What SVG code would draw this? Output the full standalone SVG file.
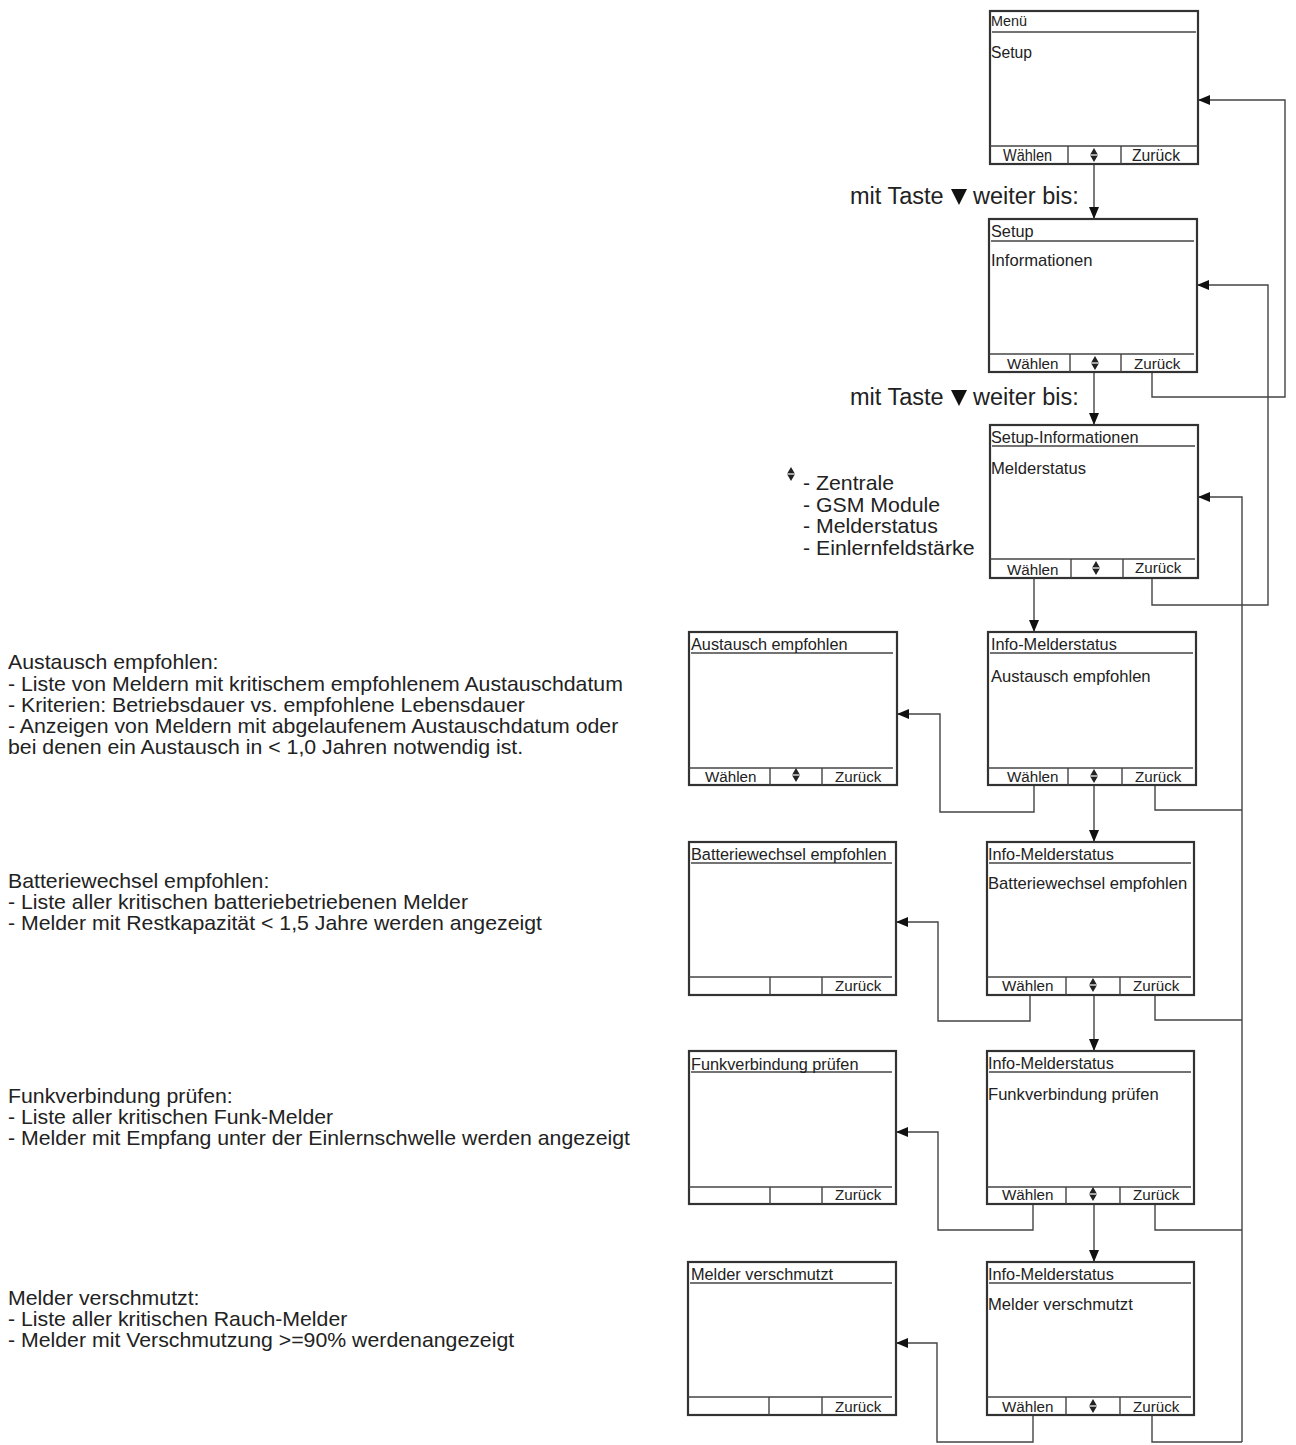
<svg xmlns="http://www.w3.org/2000/svg" width="1296" height="1445" viewBox="0 0 1296 1445">
<style>
.bg{fill:#fff}
.frame{fill:#fff;stroke:#333;stroke-width:2.2}
.tl{stroke:#444;stroke-width:1.4}
.con{stroke:#444;stroke-width:1.4;fill:none}
.t{font-family:"Liberation Sans",Arial,sans-serif;fill:#222}
.st{font-size:16.3px}
.sb{font-size:16.6px}
.sf{font-size:15.2px}
.big{font-size:23.5px}
.desc{font-size:19.8px}
.icon{fill:#222}
</style>
<defs>
<marker id="ah" markerWidth="12" markerHeight="10" refX="11" refY="5" orient="auto" markerUnits="userSpaceOnUse">
<path d="M0,0 L12,5 L0,10 Z" fill="#111"/>
</marker>
<g id="ud"><path d="M-3.5,-1 L0,-7 L3.5,-1 Z M-3.5,1 L0,7 L3.5,1 Z" class="icon"/><line x1="-4" y1="0" x2="4" y2="0" stroke="#222" stroke-width="0.8"/></g>
</defs>
<rect class="bg" width="1296" height="1445"/>

<g id="connectors">
<line class="con" x1="1094" y1="164" x2="1094" y2="218" marker-end="url(#ah)"/>
<line class="con" x1="1094" y1="372" x2="1094" y2="424" marker-end="url(#ah)"/>
<line class="con" x1="1034" y1="578" x2="1034" y2="631" marker-end="url(#ah)"/>
<line class="con" x1="1094" y1="785" x2="1094" y2="841" marker-end="url(#ah)"/>
<line class="con" x1="1094" y1="995" x2="1094" y2="1050" marker-end="url(#ah)"/>
<line class="con" x1="1094" y1="1204" x2="1094" y2="1261" marker-end="url(#ah)"/>
<polyline class="con" points="1034,785 1034,812 940,812 940,714 898,714" marker-end="url(#ah)"/>
<polyline class="con" points="1030,995 1030,1021 938,1021 938,922 897,922" marker-end="url(#ah)"/>
<polyline class="con" points="1033,1204 1033,1230 938,1230 938,1132 897,1132" marker-end="url(#ah)"/>
<polyline class="con" points="1033,1415 1033,1442 937,1442 937,1343 897,1343" marker-end="url(#ah)"/>
<polyline class="con" points="1152,372 1152,397 1285,397 1285,100 1199,100" marker-end="url(#ah)"/>
<polyline class="con" points="1152,578 1152,605 1268,605 1268,285 1198,285" marker-end="url(#ah)"/>
<polyline class="con" points="1242,1442 1242,497 1199,497" marker-end="url(#ah)"/>
<polyline class="con" points="1155,785 1155,810 1242,810"/>
<polyline class="con" points="1155,995 1155,1020 1242,1020"/>
<polyline class="con" points="1155,1204 1155,1230 1242,1230"/>
<polyline class="con" points="1152,1415 1152,1442 1242,1442"/>
</g>

<g id="labels">
<text class="t big" x="850" y="204">mit Taste</text>
<path d="M951,189 L967,189 L959,205 Z" fill="#111"/>
<text class="t big" x="973" y="204">weiter bis:</text>
<text class="t big" x="850" y="405">mit Taste</text>
<path d="M951,390 L967,390 L959,406 Z" fill="#111"/>
<text class="t big" x="973" y="405">weiter bis:</text>
<use href="#ud" x="791" y="474"/>
<g transform="translate(803,0) scale(1.075,1)">
<text class="t desc" x="0" y="490">- Zentrale</text>
<text class="t desc" x="0" y="512">- GSM Module</text>
<text class="t desc" x="0" y="533">- Melderstatus</text>
<text class="t desc" x="0" y="555">- Einlernfeldstärke</text>
</g>
</g>

<g id="desc-austausch" transform="translate(8,0) scale(1.075,1)">
<text class="t desc" x="0" y="669">Austausch empfohlen:</text>
<text class="t desc" x="0" y="691">- Liste von Meldern mit kritischem empfohlenem Austauschdatum</text>
<text class="t desc" x="0" y="712">- Kriterien: Betriebsdauer vs. empfohlene Lebensdauer</text>
<text class="t desc" x="0" y="733">- Anzeigen von Meldern mit abgelaufenem Austauschdatum oder</text>
<text class="t desc" x="0" y="754">bei denen ein Austausch in &lt; 1,0 Jahren notwendig ist.</text>
</g>
<g id="desc-batterie" transform="translate(8,0) scale(1.075,1)">
<text class="t desc" x="0" y="888">Batteriewechsel empfohlen:</text>
<text class="t desc" x="0" y="909">- Liste aller kritischen batteriebetriebenen Melder</text>
<text class="t desc" x="0" y="930">- Melder mit Restkapazität &lt; 1,5 Jahre werden angezeigt</text>
</g>
<g id="desc-funk" transform="translate(8,0) scale(1.075,1)">
<text class="t desc" x="0" y="1103">Funkverbindung prüfen:</text>
<text class="t desc" x="0" y="1124">- Liste aller kritischen Funk-Melder</text>
<text class="t desc" x="0" y="1145">- Melder mit Empfang unter der Einlernschwelle werden angezeigt</text>
</g>
<g id="desc-verschmutzt" transform="translate(8,0) scale(1.075,1)">
<text class="t desc" x="0" y="1305">Melder verschmutzt:</text>
<text class="t desc" x="0" y="1326">- Liste aller kritischen Rauch-Melder</text>
<text class="t desc" x="0" y="1347">- Melder mit Verschmutzung &gt;=90% werdenangezeigt</text>
</g>

<g id="s-menu">
<rect class="frame" x="990" y="11" width="208" height="153"/>
<line class="tl" x1="992" y1="32" x2="1196" y2="32" stroke-width="2.5"/>
<line class="tl" x1="990" y1="146" x2="1198" y2="146"/>
<line class="tl" x1="1068" y1="146" x2="1068" y2="164"/>
<line class="tl" x1="1121" y1="146" x2="1121" y2="164"/>
<text class="t" font-size="15" x="991" y="26" textLength="36" lengthAdjust="spacingAndGlyphs">Menü</text>
<text class="t" font-size="16" x="991" y="58" textLength="41" lengthAdjust="spacingAndGlyphs">Setup</text>
<text class="t" font-size="16" x="1003" y="161" textLength="49" lengthAdjust="spacingAndGlyphs">Wählen</text>
<use href="#ud" x="1094" y="155"/>
<text class="t" font-size="16" x="1132" y="161" textLength="48" lengthAdjust="spacingAndGlyphs">Zurück</text>
</g>

<g id="s-setup">
<rect class="frame" x="989" y="219" width="208" height="153"/>
<line class="tl" x1="991" y1="241" x2="1194" y2="241"/>
<line class="tl" x1="989" y1="354" x2="1194" y2="354"/>
<line class="tl" x1="1070" y1="354" x2="1070" y2="372"/>
<line class="tl" x1="1121" y1="354" x2="1121" y2="372"/>
<text class="t st" x="991" y="237">Setup</text>
<text class="t sb" x="991" y="266">Informationen</text>
<text class="t sf" x="1007" y="369">Wählen</text>
<use href="#ud" x="1095" y="363"/>
<text class="t sf" x="1134" y="369">Zurück</text>
</g>

<g id="s-setupinfo">
<rect class="frame" x="990" y="425" width="208" height="153"/>
<line class="tl" x1="992" y1="446" x2="1195" y2="446"/>
<line class="tl" x1="990" y1="559" x2="1195" y2="559"/>
<line class="tl" x1="1071" y1="559" x2="1071" y2="578"/>
<line class="tl" x1="1123" y1="559" x2="1123" y2="578"/>
<text class="t st" x="991" y="443">Setup-Informationen</text>
<text class="t sb" x="991" y="474">Melderstatus</text>
<text class="t sf" x="1007" y="575">Wählen</text>
<use href="#ud" x="1096" y="568"/>
<text class="t sf" x="1135" y="573">Zurück</text>
</g>

<g id="s-info-austausch">
<rect class="frame" x="988" y="632" width="208" height="153"/>
<line class="tl" x1="990" y1="653" x2="1193" y2="653"/>
<line class="tl" x1="988" y1="768" x2="1193" y2="768"/>
<line class="tl" x1="1068" y1="768" x2="1068" y2="785"/>
<line class="tl" x1="1122" y1="768" x2="1122" y2="785"/>
<text class="t st" x="991" y="650">Info-Melderstatus</text>
<text class="t sb" x="991" y="682">Austausch empfohlen</text>
<text class="t sf" x="1007" y="782">Wählen</text>
<use href="#ud" x="1094" y="776"/>
<text class="t sf" x="1135" y="782">Zurück</text>
</g>
<g id="s-austausch">
<rect class="frame" x="689" y="632" width="208" height="153"/>
<line class="tl" x1="691" y1="653" x2="893" y2="653"/>
<line class="tl" x1="689" y1="768" x2="893" y2="768"/>
<line class="tl" x1="770" y1="768" x2="770" y2="785"/>
<line class="tl" x1="822" y1="768" x2="822" y2="785"/>
<text class="t st" x="691" y="650">Austausch empfohlen</text>
<text class="t sf" x="705" y="782">Wählen</text>
<use href="#ud" x="796" y="775"/>
<text class="t sf" x="835" y="782">Zurück</text>
</g>

<g id="s-info-batterie">
<rect class="frame" x="987" y="842" width="207" height="153"/>
<line class="tl" x1="989" y1="863" x2="1191" y2="863"/>
<line class="tl" x1="987" y1="977" x2="1191" y2="977"/>
<line class="tl" x1="1066" y1="977" x2="1066" y2="995"/>
<line class="tl" x1="1120" y1="977" x2="1120" y2="995"/>
<text class="t st" x="988" y="860">Info-Melderstatus</text>
<text class="t sb" x="988" y="889">Batteriewechsel empfohlen</text>
<text class="t sf" x="1002" y="991">Wählen</text>
<use href="#ud" x="1093" y="985"/>
<text class="t sf" x="1133" y="991">Zurück</text>
</g>
<g id="s-batterie">
<rect class="frame" x="689" y="842" width="207" height="153"/>
<line class="tl" x1="691" y1="863" x2="892" y2="863"/>
<line class="tl" x1="689" y1="977" x2="892" y2="977"/>
<line class="tl" x1="770" y1="977" x2="770" y2="995"/>
<line class="tl" x1="822" y1="977" x2="822" y2="995"/>
<text class="t st" x="691" y="860">Batteriewechsel empfohlen</text>
<text class="t sf" x="835" y="991">Zurück</text>
</g>

<g id="s-info-funk">
<rect class="frame" x="987" y="1051" width="207" height="153"/>
<line class="tl" x1="989" y1="1072" x2="1191" y2="1072"/>
<line class="tl" x1="987" y1="1187" x2="1191" y2="1187"/>
<line class="tl" x1="1066" y1="1187" x2="1066" y2="1204"/>
<line class="tl" x1="1120" y1="1187" x2="1120" y2="1204"/>
<text class="t st" x="988" y="1069">Info-Melderstatus</text>
<text class="t sb" x="988" y="1100">Funkverbindung prüfen</text>
<text class="t sf" x="1002" y="1200">Wählen</text>
<use href="#ud" x="1093" y="1194"/>
<text class="t sf" x="1133" y="1200">Zurück</text>
</g>
<g id="s-funk">
<rect class="frame" x="689" y="1051" width="207" height="153"/>
<line class="tl" x1="691" y1="1072" x2="892" y2="1072"/>
<line class="tl" x1="689" y1="1187" x2="892" y2="1187"/>
<line class="tl" x1="770" y1="1187" x2="770" y2="1204"/>
<line class="tl" x1="822" y1="1187" x2="822" y2="1204"/>
<text class="t st" x="691" y="1070">Funkverbindung prüfen</text>
<text class="t sf" x="835" y="1200">Zurück</text>
</g>

<g id="s-info-verschmutzt">
<rect class="frame" x="987" y="1262" width="207" height="153"/>
<line class="tl" x1="989" y1="1283" x2="1191" y2="1283"/>
<line class="tl" x1="987" y1="1397" x2="1191" y2="1397"/>
<line class="tl" x1="1066" y1="1397" x2="1066" y2="1415"/>
<line class="tl" x1="1120" y1="1397" x2="1120" y2="1415"/>
<text class="t st" x="988" y="1280">Info-Melderstatus</text>
<text class="t sb" x="988" y="1310">Melder verschmutzt</text>
<text class="t sf" x="1002" y="1412">Wählen</text>
<use href="#ud" x="1093" y="1406"/>
<text class="t sf" x="1133" y="1412">Zurück</text>
</g>
<g id="s-verschmutzt">
<rect class="frame" x="688" y="1262" width="208" height="153"/>
<line class="tl" x1="690" y1="1283" x2="892" y2="1283"/>
<line class="tl" x1="688" y1="1397" x2="892" y2="1397"/>
<line class="tl" x1="769" y1="1397" x2="769" y2="1415"/>
<line class="tl" x1="822" y1="1397" x2="822" y2="1415"/>
<text class="t st" x="691" y="1280">Melder verschmutzt</text>
<text class="t sf" x="835" y="1412">Zurück</text>
</g>
</svg>
